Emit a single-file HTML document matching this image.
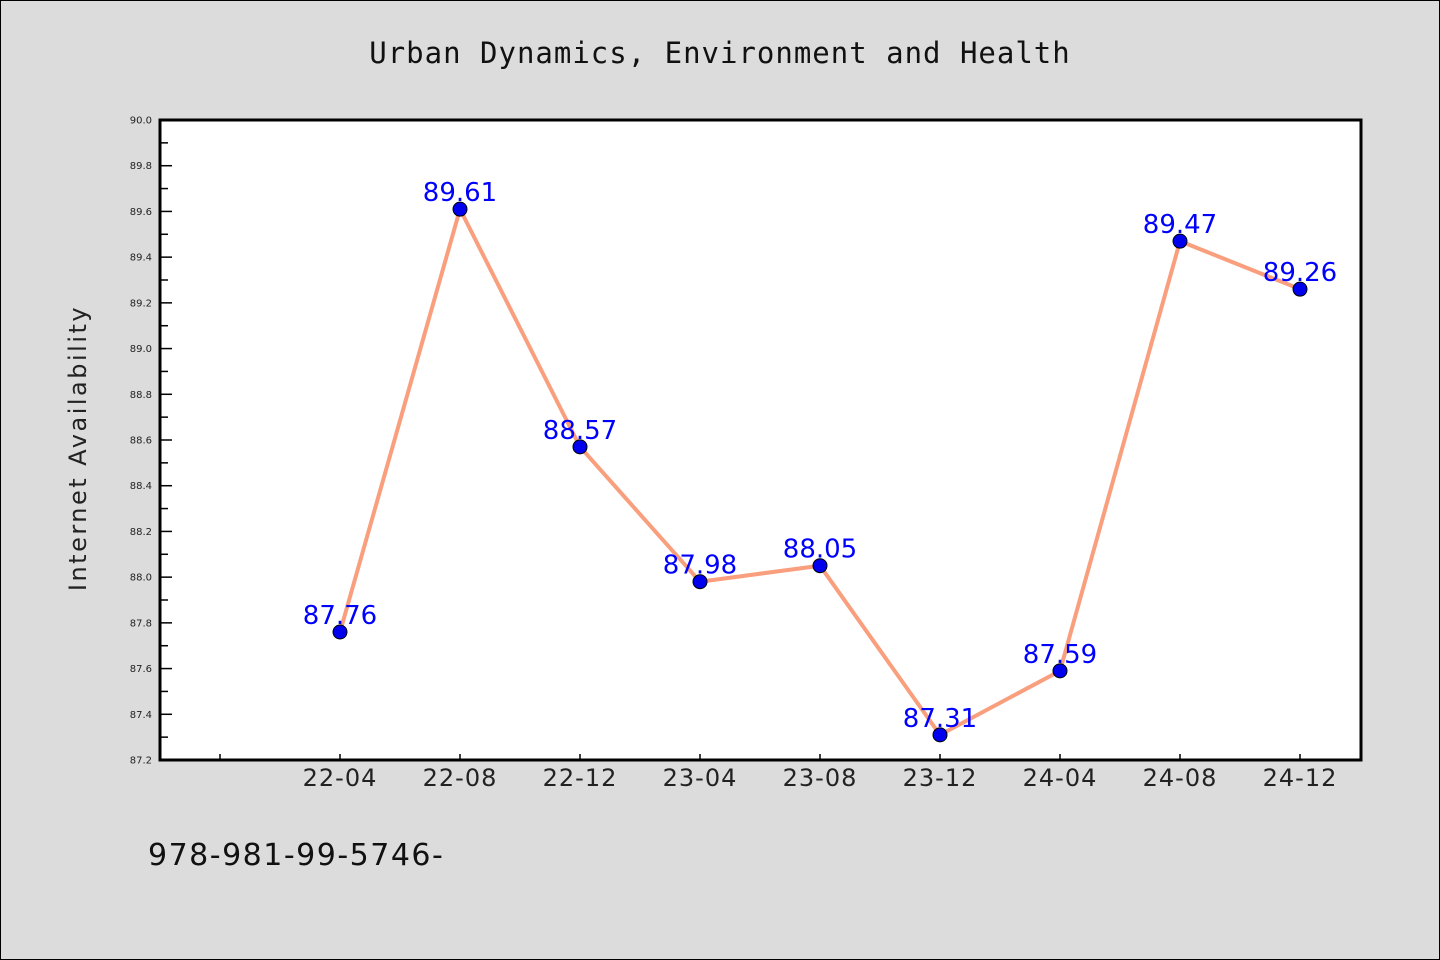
<!DOCTYPE html>
<html><head><meta charset="utf-8"><style>
html,body{margin:0;background:#dcdcdc;width:1440px;height:960px;overflow:hidden;font-family:"DejaVu Sans","Liberation Sans",sans-serif}
svg{display:block}
</style></head><body>
<svg width="1440" height="960" xmlns="http://www.w3.org/2000/svg">
<rect x="0.5" y="0.5" width="1439" height="959" fill="#dcdcdc" stroke="#000"/>
<text x="720" y="63" text-anchor="middle" font-size="29" fill="#111" letter-spacing="1" font-family="DejaVu Sans Mono,Liberation Mono,monospace">Urban Dynamics, Environment and Health</text>
<rect x="160" y="120" width="1201" height="640" fill="#fff"/>
<g id="axes"></g>
<text transform="translate(86,448) rotate(-90)" text-anchor="middle" font-size="24" fill="#222" letter-spacing="2.5">Internet Availability</text>
<text x="148" y="865" font-size="30" fill="#111" letter-spacing="1.5">978-981-99-5746-</text>
<g id="marks"></g>
<rect x="160" y="120" width="1201" height="640" fill="none" stroke="#000" stroke-width="3"/>
</svg>
<script>
const categories=["22-04","22-08","22-12","23-04","23-08","23-12","24-04","24-08","24-12"];
const values=[87.76,89.61,88.57,87.98,88.05,87.31,87.59,89.47,89.26];
const yTicks=[87.2,87.4,87.6,87.8,88.0,88.2,88.4,88.6,88.8,89.0,89.2,89.4,89.6,89.8,90.0];
(function(){
const yMin=87.2,yMax=90.0,plotTop=120,plotBot=760;
const ys=v=>plotBot-(v-yMin)/(yMax-yMin)*(plotBot-plotTop);
const xs=i=>340+120*i;
const NS="http://www.w3.org/2000/svg";
function mk(t,a,p){const e=document.createElementNS(NS,t);for(const k in a)e.setAttribute(k,a[k]);p.appendChild(e);return e;}
const ax=document.getElementById('axes'),mg=document.getElementById('marks');
yTicks.forEach((v,i)=>{
 const y=ys(v);
 const t=mk('line',{x1:160,x2:172,y1:y,y2:y,stroke:'#000','stroke-width':1.5},ax);
 
 
 const l=mk('text',{x:152,y:y+3.5,'text-anchor':'end','font-size':10,fill:'#222'},ax);
 l.textContent=v.toFixed(1);
 
 
 if(i<yTicks.length-1){const m=ys(v+0.1);
  const mt=mk('line',{x1:160,x2:168,y1:m,y2:m,stroke:'#000','stroke-width':1.5},ax);
  
  }
});
[-1].concat(categories.map((c,i)=>i)).forEach(i=>{
 const x=xs(i);
 const t=mk('line',{x1:x,x2:x,y1:760,y2:754,stroke:'#000','stroke-width':1.5},ax);
 
 
 if(i>=0){const l=mk('text',{x:x,y:786,'text-anchor':'middle','font-size':24,fill:'#222','letter-spacing':1},ax);
  l.textContent=categories[i];
  
  }
});
const line=mk('polyline',{points:values.map((v,i)=>xs(i)+','+ys(v)).join(' '),fill:'none',stroke:'#f99f7e','stroke-width':4,'stroke-linejoin':'round'},mg);


values.forEach((v,i)=>{
 const c=mk('circle',{cx:xs(i),cy:ys(v),r:7,fill:'#0000ee',stroke:'#000','stroke-width':1},mg);
 
 
 const l=mk('text',{x:xs(i),y:ys(v)-8,'text-anchor':'middle','font-size':26,fill:'#0000ff'},mg);
 l.textContent=v.toFixed(2);
 
 
});
})();
</script>
</body></html>
